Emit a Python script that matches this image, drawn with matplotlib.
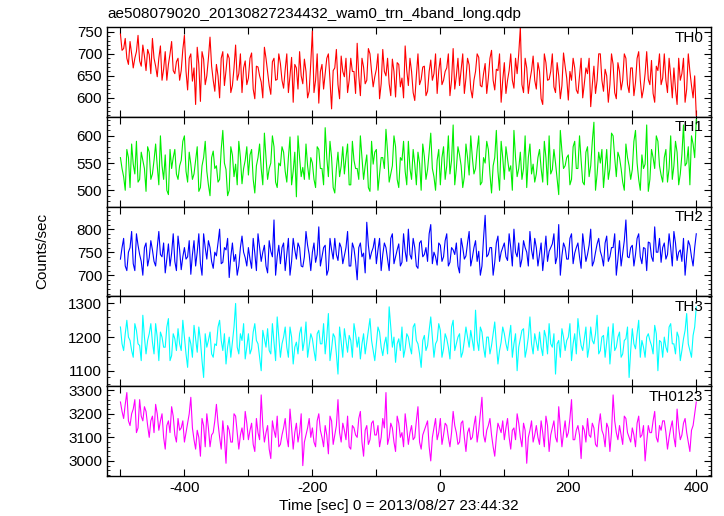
#light curves of the 4 WAM bands and their sum
import numpy as np
import matplotlib.pyplot as plt
from matplotlib.ticker import MultipleLocator, FuncFormatter

plt.rcParams['font.family'] = ['Liberation Sans', 'DejaVu Sans']
plt.rcParams['font.size'] = 11

#time bins [sec], 2.5 s step from -500 to 400
t = np.arange(-500, 400.1, 2.5)

#counts read at -500, -495, ... 400
th0 = [745, 712, 690, 728, 668, 705, 684, 720, 662, 698,
       735, 672, 690, 640, 705, 676, 728, 655, 690, 662,
       742, 618, 700, 668, 715, 592, 688, 650, 738, 640,
       676, 600, 705, 662, 690, 628, 720, 655, 612, 684,
       645, 702, 598, 670, 636, 715, 660, 608, 690, 642,
       678, 622, 700, 650, 590, 668, 705, 632, 660, 615,
       752, 640, 588, 676, 655, 700, 575, 668, 630, 695,
       648, 612, 690, 660, 724, 605, 670, 640, 700, 625,
       665, 598, 710, 650, 632, 688, 602, 676, 645, 718,
       628, 660, 594, 700, 642, 672, 615, 686, 655, 610,
       690, 640, 668, 605, 712, 650, 628, 700, 645, 675,
       600, 660, 692, 625, 678, 645, 708, 618, 662, 590,
       680, 640, 700, 622, 655, 760, 612, 668, 640, 695,
       620, 660, 585, 680, 642, 700, 612, 650, 628, 672,
       595, 640, 668, 610, 690, 632, 655, 580, 672, 640,
       700, 615, 650, 630, 676, 598, 660, 640, 690, 612,
       668, 635, 705, 600, 655, 642, 685, 590, 662, 630,
       700, 612, 650, 668, 585, 640, 690, 620, 660, 600,
       560]
#counts read at -497.5, -492.5, ... 397.5
th0_mid = [708, 735, 676, 700, 690, 742, 672, 695, 710, 655,
           690, 648, 718, 665, 640, 700, 662, 682, 640, 710,
           660, 690, 638, 585, 676, 705, 630, 690, 672, 615,
           650, 690, 628, 700, 612, 668, 640, 700, 668, 630,
           690, 620, 672, 650, 600, 690, 628, 682, 640, 700,
           640, 664, 612, 692, 676, 620, 650, 688, 600, 680,
           612, 700, 660, 620, 690, 640, 662, 710, 598, 660,
           690, 640, 660, 610, 650, 690, 632, 712, 660, 648,
           700, 632, 660, 690, 605, 660, 680, 625, 600, 662,
           690, 612, 650, 630, 670, 605, 660, 640, 700, 662,
           630, 660, 700, 640, 620, 690, 665, 610, 690, 620,
           640, 700, 628, 655, 610, 690, 640, 665, 700, 640,
           610, 662, 640, 690, 700, 630, 690, 610, 662, 640,
           680, 598, 700, 640, 660, 625, 680, 598, 702, 645,
           660, 690, 618, 650, 600, 668, 690, 630, 610, 700,
           640, 665, 590, 700, 612, 680, 618, 700, 630, 668,
           605, 690, 640, 620, 705, 630, 610, 672, 700, 645,
           640, 690, 600, 620, 690, 655, 590, 700, 628, 650]

th1 = [560, 525, 575, 505, 548, 590, 520, 555, 498, 570,
       530, 585, 510, 545, 565, 492, 540, 575, 520, 555,
       600, 515, 548, 530, 580, 505, 560, 535, 490, 572,
       545, 520, 610, 538, 500, 565, 548, 590, 512, 555,
       528, 575, 495, 560, 540, 605, 520, 550, 580, 505,
       545, 570, 515, 598, 535, 488, 560, 542, 585, 520,
       550, 505, 575, 540, 615, 525, 560, 495, 570, 545,
       530, 585, 510, 555, 540, 600, 520, 565, 498, 548,
       575, 530, 560, 612, 515, 545, 580, 505, 555, 535,
       590, 520, 548, 570, 500, 562, 538, 605, 525, 555,
       510, 580, 545, 530, 620, 540, 565, 505, 585, 528,
       560, 540, 600, 515, 550, 575, 495, 560, 535, 590,
       520, 558, 545, 610, 525, 570, 540, 505, 585, 548,
       530, 575, 515, 560, 600, 538, 550, 492, 572, 545,
       565, 520, 590, 540, 555, 510, 580, 545, 625, 530,
       550, 505, 575, 540, 600, 525, 560, 515, 585, 545,
       538, 610, 520, 565, 548, 498, 575, 540, 590, 528,
       560, 515, 600, 545, 570, 530, 620, 550, 510, 585,
       630]
th1_mid = [540, 500, 560, 585, 530, 515, 570, 540, 580, 520,
           555, 545, 600, 520, 500, 575, 560, 530, 545, 590,
           535, 570, 520, 555, 498, 545, 590, 510, 560, 540,
           515, 575, 550, 490, 580, 525, 510, 560, 540, 580,
           565, 520, 545, 585, 510, 560, 540, 600, 515, 550,
           580, 535, 560, 510, 570, 600, 525, 520, 545, 560,
           520, 580, 540, 510, 560, 590, 505, 540, 525, 580,
           560, 510, 590, 540, 520, 560, 545, 505, 590, 570,
           500, 560, 540, 570, 530, 600, 520, 560, 590, 510,
           540, 575, 510, 550, 585, 520, 570, 540, 500, 575,
           560, 520, 600, 555, 510, 580, 545, 525, 560, 600,
           530, 575, 510, 560, 590, 530, 545, 610, 500, 560,
           580, 535, 500, 560, 540, 520, 600, 560, 530, 515,
           560, 540, 590, 510, 530, 575, 520, 610, 540, 560,
           510, 580, 540, 600, 515, 570, 525, 590, 500, 570,
           575, 540, 520, 605, 560, 570, 540, 500, 560, 520,
           590, 550, 500, 540, 620, 520, 560, 600, 545, 515,
           575, 540, 520, 590, 510, 565, 545, 580, 600, 560]

th2 = [735, 780, 710, 760, 725, 790, 745, 700, 770, 738,
       755, 720, 795, 740, 705, 768, 748, 730, 785, 712,
       760, 740, 702, 775, 750, 725, 790, 735, 760, 715,
       742, 800, 728, 755, 695, 770, 745, 720, 785, 738,
       760, 715, 748, 790, 730, 765, 705, 752, 820, 740,
       725, 770, 745, 700, 780, 735, 760, 718, 795, 745,
       750, 728, 805, 740, 765, 712, 755, 780, 732, 760,
       742, 795, 720, 758, 690, 770, 748, 815, 735, 760,
       725, 780, 745, 760, 710, 790, 740, 768, 728, 752,
       800, 735, 760, 715, 775, 745, 730, 810, 750, 722,
       765, 740, 790, 728, 755, 770, 705, 760, 742, 795,
       738, 775, 752, 720, 830, 745, 760, 728, 785, 750,
       770, 732, 760, 800, 740, 718, 775, 750, 795, 735,
       760, 745, 710, 785, 752, 768, 725, 810, 742, 760,
       735, 790, 748, 770, 715, 760, 745, 800, 730, 768,
       752, 720, 785, 740, 760, 700, 775, 748, 820, 738,
       765, 745, 790, 725, 758, 772, 740, 805, 750, 728,
       770, 745, 760, 795, 732, 755, 780, 742, 765, 720,
       790]
th2_mid = [760, 720, 750, 795, 710, 765, 730, 760, 720, 775,
           730, 760, 745, 770, 735, 720, 790, 710, 755, 740,
           735, 775, 745, 720, 790, 700, 760, 775, 730, 750,
           770, 725, 760, 780, 740, 730, 700, 760, 750, 720,
           735, 780, 710, 760, 750, 720, 775, 740, 700, 765,
           760, 710, 780, 730, 755, 770, 720, 740, 765, 710,
           770, 745, 720, 760, 700, 780, 735, 745, 770, 725,
           760, 720, 770, 730, 760, 740, 705, 765, 750, 780,
           755, 710, 770, 735, 780, 725, 755, 720, 790, 730,
           745, 780, 720, 770, 740, 760, 790, 725, 740, 770,
           730, 775, 720, 760, 745, 720, 780, 735, 770, 720,
           760, 730, 700, 780, 740, 760, 700, 770, 730, 760,
           740, 790, 720, 750, 770, 735, 760, 720, 755, 780,
           720, 770, 745, 730, 760, 790, 740, 700, 770, 735,
           780, 725, 760, 740, 790, 730, 765, 720, 750, 780,
           740, 770, 730, 760, 790, 735, 720, 775, 740, 760,
           720, 780, 740, 760, 710, 770, 730, 750, 780, 760,
           735, 790, 720, 770, 750, 730, 700, 775, 740, 760]

th3 = [1230, 1160, 1250, 1190, 1140, 1220, 1175, 1265, 1150, 1210,
       1185, 1240, 1130, 1200, 1170, 1255, 1145, 1195, 1225, 1160,
       1200, 1110, 1180, 1235, 1155, 1190, 1080, 1170, 1215, 1140,
       1175, 1250, 1160, 1120, 1200, 1185, 1300, 1150, 1190, 1135,
       1210, 1165, 1240, 1180, 1100, 1195, 1225, 1150, 1185, 1260,
       1140, 1200, 1170, 1230, 1120, 1185, 1210, 1160, 1245, 1175,
       1195, 1130, 1220, 1180, 1150, 1270, 1165, 1200, 1090, 1185,
       1225, 1155, 1190, 1240, 1170, 1135, 1210, 1185, 1255, 1160,
       1180, 1215, 1145, 1200, 1290, 1170, 1125, 1195, 1230, 1165,
       1200, 1150, 1240, 1180, 1110, 1205, 1175, 1260, 1140, 1190,
       1220, 1165, 1195, 1135, 1250, 1180, 1210, 1155, 1230, 1170,
       1190, 1280, 1160, 1215, 1140, 1200, 1175, 1245, 1120, 1185,
       1210, 1160, 1235, 1180, 1100, 1195, 1225, 1165, 1260, 1150,
       1185, 1215, 1145, 1200, 1240, 1170, 1090, 1190, 1225, 1160,
       1200, 1130, 1210, 1255, 1175, 1195, 1140, 1230, 1180, 1265,
       1160, 1205, 1185, 1120, 1240, 1170, 1215, 1150, 1195, 1080,
       1225, 1165, 1250, 1190, 1140, 1210, 1175, 1235, 1100, 1185,
       1200, 1155, 1240, 1180, 1215, 1130, 1195, 1270, 1160, 1205,
       1290]
th3_mid = [1180, 1210, 1200, 1160, 1240, 1180, 1130, 1200, 1190, 1240,
           1150, 1200, 1215, 1170, 1230, 1130, 1210, 1160, 1180, 1250,
           1150, 1200, 1140, 1195, 1230, 1130, 1210, 1190, 1150, 1180,
           1230, 1190, 1210, 1170, 1140, 1230, 1170, 1210, 1240, 1170,
           1150, 1215, 1190, 1140, 1220, 1170, 1160, 1240, 1130, 1200,
           1180, 1230, 1140, 1200, 1170, 1150, 1230, 1190, 1140, 1210,
           1160, 1210, 1180, 1240, 1200, 1130, 1210, 1150, 1230, 1140,
           1190, 1205, 1140, 1210, 1200, 1180, 1150, 1220, 1190, 1130,
           1230, 1170, 1180, 1150, 1230, 1200, 1180, 1160, 1140, 1210,
           1170, 1230, 1190, 1150, 1190, 1160, 1220, 1200, 1180, 1240,
           1140, 1210, 1170, 1230, 1160, 1200, 1140, 1190, 1200, 1220,
           1160, 1190, 1230, 1170, 1200, 1150, 1210, 1180, 1160, 1230,
           1180, 1200, 1140, 1210, 1170, 1220, 1140, 1200, 1180, 1210,
           1160, 1170, 1220, 1150, 1180, 1210, 1180, 1140, 1200, 1190,
           1240, 1180, 1150, 1210, 1160, 1230, 1170, 1190, 1210, 1150,
           1200, 1140, 1230, 1180, 1160, 1200, 1140, 1190, 1230, 1160,
           1180, 1210, 1140, 1170, 1200, 1190, 1150, 1210, 1190, 1140,
           1170, 1230, 1180, 1150, 1200, 1160, 1220, 1180, 1140, 1230]

th0123 = [3250, 3180, 3290, 3150, 3220, 3120, 3260, 3170, 3210, 3100,
          3190, 3240, 3130, 3200, 3050, 3170, 3230, 3110, 3180, 3140,
          3080, 3160, 3270, 3090, 3130, 3020, 3150, 3200, 3060, 3120,
          3240, 3100, 3170, 2990, 3130, 3080, 3190, 3050, 3140, 3210,
          3090, 3160, 3040, 3120, 3280, 3080, 3150, 3010, 3130, 3190,
          3070, 3140, 3100, 3220, 3050, 3160, 3120, 2980, 3110, 3180,
          3140, 3060, 3200, 3100, 3150, 3030, 3170, 3110, 3260, 3080,
          3130, 3190, 3050, 3140, 3100, 3210, 3020, 3150, 3090, 3170,
          3110, 3060, 3180, 3290, 3100, 3140, 3040, 3160, 3120, 3200,
          3070, 3150, 3100, 3230, 3050, 3130, 3170, 3000, 3140, 3090,
          3180, 3110, 3150, 3060, 3210, 3120, 3080, 3170, 3040, 3140,
          3100, 3190, 3130, 3270, 3080, 3150, 3110, 3020, 3160, 3120,
          3090, 3180, 3050, 3140, 3200, 3100, 3160, 2990, 3130, 3080,
          3150, 3070, 3120, 3190, 3040, 3140, 3100, 3230, 3060, 3170,
          3120, 3260, 3090, 3150, 3010, 3130, 3180, 3100, 3140, 3060,
          3200, 3110, 3160, 3040, 3280, 3120, 3150, 3070, 3180, 3100,
          3140, 3060, 3190, 3110, 3000, 3150, 3120, 3210, 3080, 3130,
          3170, 3050, 3140, 3100, 3220, 3090, 3160, 3120, 3040, 3150,
          3250]
th0123_mid = [3210, 3240, 3170, 3200, 3260, 3140, 3190, 3230, 3150, 3170,
              3120, 3200, 3170, 3100, 3150, 3120, 3190, 3080, 3130, 3170,
              3120, 3200, 3140, 3050, 3100, 3180, 3060, 3140, 3110, 3170,
              3160, 3050, 3100, 3150, 3080, 3200, 3120, 3110, 3090, 3160,
              3130, 3070, 3180, 3090, 3150, 3120, 3050, 3170, 3100, 3060,
              3110, 3180, 3060, 3140, 3120, 3080, 3200, 3080, 3140, 3100,
              3080, 3170, 3130, 3060, 3110, 3190, 3070, 3150, 3120, 3160,
              3090, 3060, 3150, 3110, 3180, 3080, 3130, 3070, 3160, 3110,
              3150, 3100, 3140, 3070, 3160, 3080, 3190, 3100, 3060, 3140,
              3120, 3090, 3170, 3080, 3110, 3150, 3060, 3100, 3180, 3120,
              3070, 3160, 3100, 3120, 3150, 3070, 3160, 3100, 3120, 3090,
              3150, 3080, 3200, 3110, 3130, 3180, 3060, 3100, 3140, 3170,
              3140, 3100, 3130, 3090, 3160, 3060, 3130, 3100, 3170, 3110,
              3100, 3170, 3060, 3150, 3110, 3170, 3080, 3140, 3120, 3100,
              3180, 3090, 3130, 3110, 3150, 3080, 3110, 3160, 3070, 3150,
              3130, 3060, 3140, 3120, 3170, 3090, 3110, 3190, 3120, 3080,
              3110, 3160, 3100, 3150, 3080, 3120, 3170, 3100, 3150, 3170,
              3120, 3100, 3170, 3060, 3140, 3110, 3180, 3080, 3130, 3200]

names = ['TH0', 'TH1', 'TH2', 'TH3', 'TH0123']
colors = ['#ff0000', '#00ee00', '#0000ff', '#00ffff', '#ff00ff']
ylims = [(557, 761), (470, 635), (654, 849), (1054, 1321), (2936, 3317)]
majors = [50, 50, 50, 100, 100]
minors = [10, 10, 10, 20, 20]

#put the two sets of readings back in time order
series = []
for a, b in [(th0, th0_mid), (th1, th1_mid), (th2, th2_mid), (th3, th3_mid), (th0123, th0123_mid)]:
    y = np.empty(len(a) + len(b))
    y[0::2] = a
    y[1::2] = b
    series.append(y)

fig, axes = plt.subplots(5, 1, sharex=True, figsize=(7.24, 5.16), dpi=100)
plt.subplots_adjust(left=107/724, right=711/724, top=1-27/516, bottom=1-476/516, hspace=0)

for i, ax in enumerate(axes):
    ax.plot(t, series[i], color=colors[i], lw=0.8)
    ax.set_ylim(ylims[i])
    ax.set_xlim(-521, 423)
    ax.yaxis.set_major_locator(MultipleLocator(majors[i]))
    ax.yaxis.set_minor_locator(MultipleLocator(minors[i]))
    ax.xaxis.set_major_locator(MultipleLocator(100))
    ax.tick_params(which='both', direction='in', top=True, right=True, labelsize=11)
    ax.tick_params(which='major', length=5, width=0.8)
    ax.tick_params(which='minor', length=2.5, width=0.6)
    for s in ax.spines.values():
        s.set_linewidth(1.0)
    ax.text(0.987, 0.96, names[i], transform=ax.transAxes, ha='right', va='top', fontsize=11)

#only every second hundred gets a label
axes[-1].xaxis.set_major_formatter(FuncFormatter(lambda v, p: '%d' % v if int(round(v)) % 200 == 0 else ''))

fig.text(399/724, 1-506/516, 'Time [sec] 0 = 2013/08/27 23:44:32', ha='center', va='center', fontsize=11)
fig.text(42/724, 1-251/516, 'Counts/sec', rotation=90, ha='center', va='center', fontsize=11)
fig.text(107/724, 1-14/516, 'ae508079020_20130827234432_wam0_trn_4band_long.qdp', ha='left', va='center', fontsize=11)

plt.savefig('out.png', dpi=100)
